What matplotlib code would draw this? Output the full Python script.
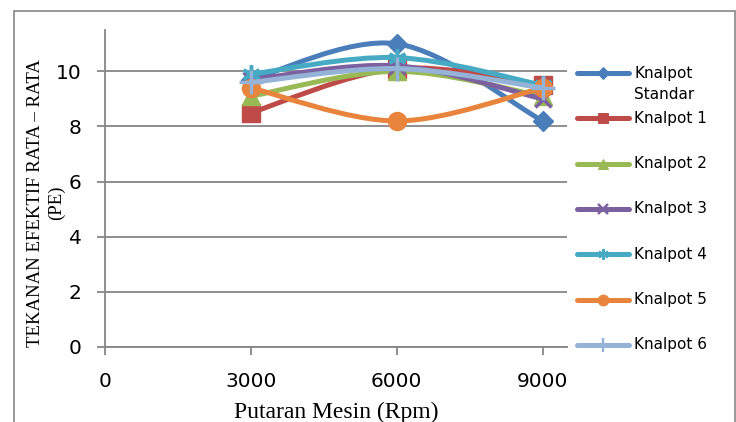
import matplotlib.pyplot as plt
from matplotlib.path import Path
from matplotlib.patches import PathPatch, Rectangle
from matplotlib.lines import Line2D

# Engine speed (rpm) and mean effective pressure for each exhaust
rpm = [3000, 6000, 9000]
series_names = ["Knalpot\nStandar", "Knalpot 1", "Knalpot 2", "Knalpot 3",
                "Knalpot 4", "Knalpot 5", "Knalpot 6"]
pe_standar = [9.7, 11.0, 8.2]
pe_k1 = [8.5, 10.1, 9.5]
pe_k2 = [9.1, 10.0, 9.1]
pe_k3 = [9.7, 10.2, 9.0]
pe_k4 = [9.9, 10.5, 9.5]
pe_k5 = [9.4, 8.2, 9.4]
pe_k6 = [9.6, 10.1, 9.4]

colors = ["#4a7ebb", "#be4b48", "#98b954", "#7d60a0", "#46aac5", "#e8843c", "#95b3d7"]
markers = ["D", "s", "^", "x", (6, 2, 0), "o", "+"]
msizes = [10, 13, 13, 11, 13, 13, 17]

fig = plt.figure(figsize=(7.36, 4.22), dpi=100)
ax = fig.add_axes([105 / 736, 1 - 347 / 422, 462 / 736, 317 / 422])


def smooth_path(xs, ys):
    # Catmull-Rom style bezier through the points (smoothed line)
    pts = list(zip(xs, ys))
    n = len(pts)
    verts = [pts[0]]
    codes = [Path.MOVETO]
    for i in range(n - 1):
        p0 = pts[max(i - 1, 0)]
        p1 = pts[i]
        p2 = pts[i + 1]
        p3 = pts[min(i + 2, n - 1)]
        c1 = (p1[0] + (p2[0] - p0[0]) / 6, p1[1] + (p2[1] - p0[1]) / 6)
        c2 = (p2[0] - (p3[0] - p1[0]) / 6, p2[1] - (p3[1] - p1[1]) / 6)
        verts += [c1, c2, p2]
        codes += [Path.CURVE4] * 3
    return Path(verts, codes)


all_series = [pe_standar, pe_k1, pe_k2, pe_k3, pe_k4, pe_k5, pe_k6]
styles = []
for i, (vals, col, mk, ms) in enumerate(zip(all_series, colors, markers, msizes)):
    patch = PathPatch(smooth_path(rpm, vals), facecolor="none", edgecolor=col,
                      lw=3.6, capstyle="round", joinstyle="round", zorder=3 + i)
    ax.add_patch(patch)
    mew = 2.5 if mk in ("x", "+") or isinstance(mk, tuple) else 1
    ax.plot(rpm, vals, linestyle="none", marker=mk, markersize=ms, color=col,
            markeredgewidth=mew, zorder=3 + i)
    styles.append((col, mk, ms, mew))

ax.set_xlim(0, 9500)
ax.set_ylim(0, 11.5)
ax.set_xticks([0, 3000, 6000, 9000])
ax.set_yticks([0, 2, 4, 6, 8, 10])
ax.grid(axis="y", color="#868686", lw=1.3)
ax.set_axisbelow(True)
for side in ["top", "right"]:
    ax.spines[side].set_visible(False)
for side in ["left", "bottom"]:
    ax.spines[side].set_color("#868686")
    ax.spines[side].set_linewidth(1.3)
ax.tick_params(axis="both", colors="#868686", width=1.3, length=6,
               labelsize=14.5, labelcolor="black")
ax.tick_params(axis="x", pad=12)
ax.tick_params(axis="y", pad=11)

serif = ["Liberation Serif", "DejaVu Serif"]
ax.set_xlabel("Putaran Mesin (Rpm)", fontsize=17, family=serif, labelpad=8)
# y title in two lines
fig.text(36 / 736, 1 - 203 / 422, "TEKANAN EFEKTIF RATA – RATA", rotation=90,
         ha="center", va="center", fontsize=13.5, family=serif)
fig.text(56 / 736, 1 - 203 / 422, "(PE)", rotation=90,
         ha="center", va="center", fontsize=13.5, family=serif)

# legend column on the right, handle level with the first line of each label
leg_y0, leg_step = 73, 45.3
for i, (name, (col, mk, ms, mew)) in enumerate(zip(series_names, styles)):
    y = 1 - (leg_y0 + i * leg_step) / 422
    fig.add_artist(Line2D([577 / 736, 629 / 736], [y, y], color=col, lw=3.6,
                          solid_capstyle="round", transform=fig.transFigure))
    fig.add_artist(Line2D([603 / 736], [y], color=col, marker=mk,
                          markersize=ms * 0.6, markeredgewidth=mew * 0.7,
                          transform=fig.transFigure))
    n_lines = name.count("\n")
    fig.text(634 / 736, y - n_lines * 11 / 422, name, ha="left", va="center",
             fontsize=11, linespacing=1.45)

# chart frame
fig.add_artist(Rectangle((14 / 736, -0.1), 721 / 736, 1.1 - 11 / 422,
                         transform=fig.transFigure, fill=False,
                         edgecolor="#868686", lw=1.2))

fig.savefig("out.png", dpi=100)
